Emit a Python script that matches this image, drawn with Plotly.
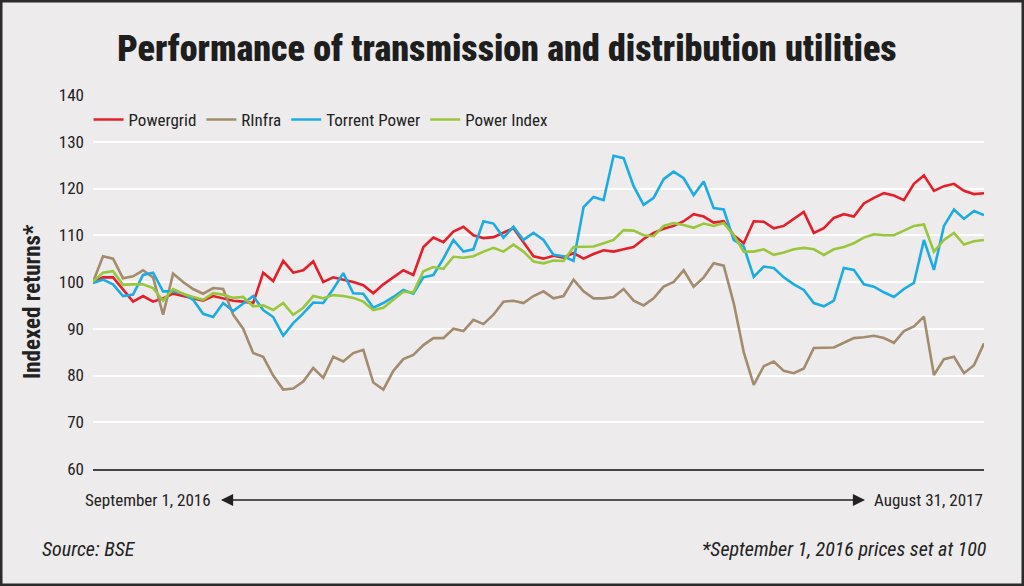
import pandas as pd
import plotly.graph_objects as go

start_date = "2016-09-01"
end_date = "2017-08-31"

powergrid = [100, 101, 101, 98.5, 95.8, 97, 95.8, 96.5, 97.5, 97,
             96.5, 96, 97, 96.5, 96, 95.8, 95.5, 102, 100.2, 104.5,
             102, 102.5, 104.4, 100, 101, 100.5, 100, 99.3, 97.6, 99.5,
             101, 102.5, 101.5, 107.5, 109.5, 108.5, 110.8, 111.8, 110, 109.4,
             109.6, 110.5, 111.5, 108.5, 105.5, 105, 105.6, 105.2, 106.2, 105,
             106, 106.8, 106.5, 107, 107.5, 109.2, 110.5, 111.4, 112, 113,
             114.5, 114, 112.7, 113, 110, 108.3, 113, 112.9, 111.5, 112,
             113.5, 115, 110.5, 111.5, 113.7, 114.5, 114, 116.8, 118, 119,
             118.5, 117.5, 121, 122.8, 119.5, 120.5, 121, 119.5, 118.8, 119]

rinfra = [100, 105.5, 105, 100.8, 101.2, 102.5, 101, 93, 101.8, 100,
          98.5, 97.5, 98.7, 98.5, 93, 90, 84.8, 84, 80, 77,
          77.2, 78.7, 81.6, 79.5, 84, 83, 84.8, 85.5, 78.5, 77,
          81, 83.5, 84.4, 86.5, 88, 88, 90, 89.5, 91.9, 91,
          93, 95.8, 96, 95.5, 97, 98, 96.5, 97, 100.5, 98,
          96.5, 96.5, 96.8, 98.5, 96, 95, 96.5, 99, 100, 102.5,
          99, 101, 104, 103.5, 95.5, 85, 78, 82, 83, 81,
          80.5, 81.5, 85.9, 86, 86, 87, 88, 88.2, 88.5, 88,
          87, 89.5, 90.5, 92.6, 80.1, 83.5, 84, 80.5, 82.2, 86.9]

torrent = [99.8, 100.5, 99.5, 97, 97.3, 101.5, 102, 98, 98, 97.5,
           96.2, 93.2, 92.5, 95.5, 93.8, 95.5, 97, 94, 92.5, 88.5,
           91.2, 93.3, 95.6, 95.5, 98.5, 101.9, 97.6, 97.5, 94.5, 95.5,
           96.8, 98.3, 97.5, 101, 101.5, 105, 109, 106.5, 107, 113,
           112.5, 109.5, 111.8, 109, 110.5, 109, 105.8, 105.5, 104.5, 116,
           118.2, 117.5, 127, 126.5, 120.5, 116.5, 118, 122, 123.6, 122.2,
           118.6, 121.5, 115.8, 115.5, 109, 107.6, 101.1, 103.3, 103, 101,
           99.5, 98.3, 95.5, 94.8, 96, 103, 102.6, 99.5, 99, 97.8,
           96.8, 98.5, 99.8, 109, 102.6, 112, 115.5, 113.5, 115.2, 114.3]

power_index = [100.1, 102, 102.3, 99.4, 99.5, 99.5, 98.7, 96, 98.5, 97.5,
               96.8, 96.2, 97.6, 97.3, 96.6, 96.8, 94.8, 95, 94, 95.5,
               93, 94.5, 97, 96.5, 97.2, 97, 96.6, 95.8, 94, 94.5,
               96.2, 97.9, 97.8, 102.3, 103.2, 102.8, 105.4, 105.2, 105.5, 106.5,
               107.3, 106.5, 108, 106.5, 104.4, 104, 104.6, 104.5, 107.5, 107.6,
               107.6, 108.3, 109, 111.1, 111, 110, 109.8, 112, 112.6, 112.2,
               111.6, 112.5, 112, 112.6, 110, 106.5, 106.5, 107, 105.8, 106.3,
               107, 107.3, 107, 105.8, 107, 107.5, 108.3, 109.5, 110.2, 110,
               110, 111, 112, 112.3, 106.5, 109, 110.5, 108, 108.7, 109]

series_names = ["Powergrid", "RInfra", "Torrent Power", "Power Index"]
series_values = [powergrid, rinfra, torrent, power_index]
series_colors = ["#E3202A", "#A38B6D", "#1AACE3", "#99C73B"]

y_ticks = [60, 70, 80, 90, 100, 110, 120, 130, 140]
start_label = "September 1, 2016"
end_label = "August 31, 2017"
title_text = "Performance of transmission and distribution utilities"
y_title = "Indexed returns*"
source_text = "Source: BSE"
note_text = "*September 1, 2016 prices set at 100"

dates = pd.date_range(start_date, end_date, periods=len(powergrid))

W, H = 1024, 586
L, R, T, B = 93, 40, 95, 117
pw = W - L - R
ph = H - T - B
BG = "#EDEBEC"
NARROW = "Roboto Condensed, Liberation Sans Narrow, Roboto, sans-serif"

fig = go.Figure()
for name, vals, col in zip(series_names, series_values, series_colors):
    fig.add_trace(go.Scatter(x=dates, y=vals, mode="lines", name=name,
                             line=dict(color=col, width=2.6)))


def px_x(p):
    return (p - L) / pw


def px_y(p):
    return (H - B - p) / ph


arrow_left, arrow_right = 221, 865
annotations = [
    dict(text=start_label, x=px_x(213), y=px_y(500), xref="paper", yref="paper",
         xanchor="right", yanchor="middle", showarrow=False,
         font=dict(family=NARROW, size=17, color="#222")),
    dict(text=end_label, x=px_x(872), y=px_y(500), xref="paper", yref="paper",
         xanchor="left", yanchor="middle", showarrow=False,
         font=dict(family=NARROW, size=17, color="#222")),
    dict(text="", x=px_x(arrow_left), y=px_y(500), xref="paper", yref="paper",
         ax=arrow_right - arrow_left, ay=0, axref="pixel", ayref="pixel",
         showarrow=True, arrowhead=2, arrowsize=2.2, arrowwidth=1.1, arrowcolor="#222"),
    dict(text="", x=px_x(arrow_right), y=px_y(500), xref="paper", yref="paper",
         ax=arrow_left - arrow_right, ay=0, axref="pixel", ayref="pixel",
         showarrow=True, arrowhead=2, arrowsize=2.2, arrowwidth=1.1, arrowcolor="#222"),
    dict(text="<i>" + source_text + "</i>", x=px_x(40), y=px_y(549), xref="paper", yref="paper",
         xanchor="left", yanchor="middle", showarrow=False,
         font=dict(family=NARROW, size=20, color="#222")),
    dict(text="<i>" + note_text + "</i>", x=px_x(989), y=px_y(549), xref="paper", yref="paper",
         xanchor="right", yanchor="middle", showarrow=False,
         font=dict(family=NARROW, size=20, color="#222")),
    dict(text="<b>" + y_title + "</b>", x=px_x(32), y=px_y(302), xref="paper", yref="paper",
         xanchor="center", yanchor="middle", showarrow=False, textangle=-90,
         font=dict(family=NARROW, size=23, color="#222")),
]

shapes = [
    dict(type="rect", xref="paper", yref="paper",
         x0=px_x(1), x1=px_x(W - 1), y0=px_y(H - 1), y1=px_y(1),
         line=dict(color="#2b2b2b", width=3), layer="above"),
]

fig.update_layout(
    width=W, height=H,
    margin=dict(l=L, r=R, t=T, b=B),
    paper_bgcolor=BG, plot_bgcolor=BG,
    title=dict(text=title_text, x=0.495, xanchor="center",
               y=1 - 48 / H, yanchor="middle",
               font=dict(family=NARROW, size=36, color="#1e1e1e", weight=900)),
    showlegend=True,
    legend=dict(orientation="h", x=-0.005, y=px_y(120), xanchor="left", yanchor="middle",
                bgcolor="rgba(0,0,0,0)", font=dict(family=NARROW, size=17, color="#222"),
                itemwidth=30, tracegroupgap=0),
    xaxis=dict(showgrid=False, showticklabels=False, ticks="", zeroline=False,
               range=[dates[0], dates[-1]], showline=True, linecolor="#444", linewidth=1.5),
    yaxis=dict(range=[60, 140], tickvals=y_ticks, showgrid=True, gridcolor="#FFFFFF",
               gridwidth=1.5, zeroline=False, ticks="", ticklen=0, ticklabelstandoff=8,
               tickfont=dict(family=NARROW, size=17, color="#222")),
    annotations=annotations,
    shapes=shapes,
)

fig.write_html("out.html", config={"displayModeBar": False},
               post_script="document.body.style.margin='0';document.body.style.padding='0';")
